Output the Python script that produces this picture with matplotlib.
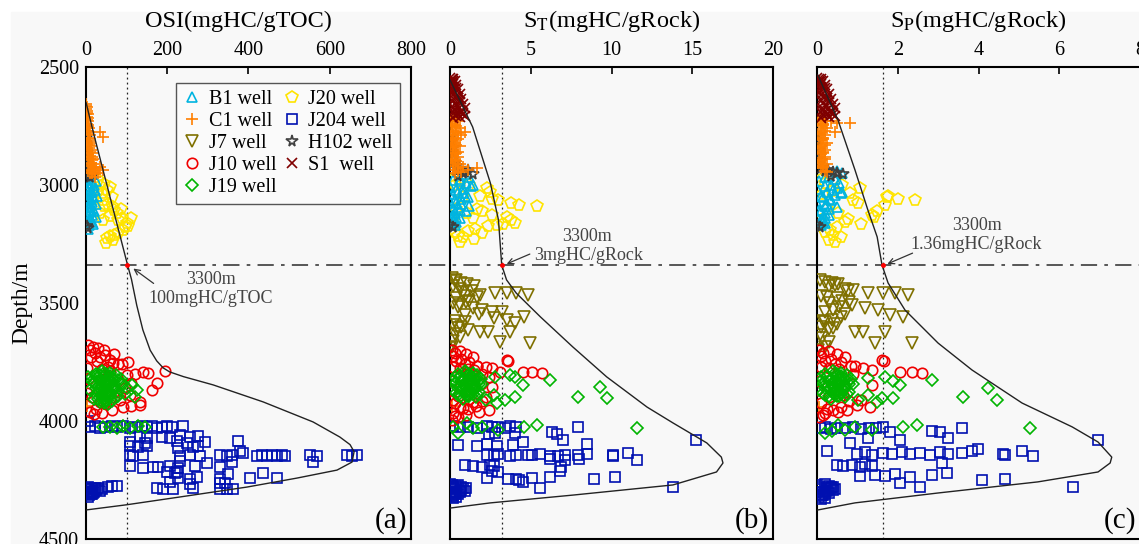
import matplotlib.pyplot as plt
from matplotlib.lines import Line2D
from matplotlib.patches import Rectangle

plt.rcParams['font.family'] = ['Liberation Serif', 'DejaVu Serif']
plt.rcParams['mathtext.fontset'] = 'stix'

# ---------------- data ----------------
depth_ticks = [2500, 3000, 3500, 4000, 4500]
cut_depth = 3340          # where the dash-dot "3300m" line is drawn

# envelope curves
osi_curve = [0, 20, 50, 80, 101, 112, 125, 140, 158, 174, 190, 206, 240, 313, 436, 559, 625, 650, 660, 655, 618, 519, 396, 231, 100, 0]
osi_curve_depth = [2650, 2790, 2990, 3190, 3330, 3400, 3510, 3614, 3700, 3745, 3775, 3792, 3812, 3847, 3919, 4004, 4068, 4100, 4130, 4174, 4208, 4242, 4280, 4322, 4355, 4377]
st_curve = [0, 1.4, 2.5, 3.0, 3.2, 3.5, 4.1, 5.6, 7.6, 9.7, 12.2, 13.8, 15.9, 16.8, 16.9, 16.5, 13.8, 7.6, 2.5, 0]
st_curve_depth = [2555, 2754, 2992, 3148, 3339, 3402, 3458, 3559, 3686, 3813, 3941, 4008, 4093, 4153, 4178, 4216, 4271, 4314, 4347, 4369]
sp_curve = [0.02, 0.52, 0.94, 1.26, 1.49, 1.61, 1.76, 2.18, 3.0, 3.84, 5.08, 6.32, 6.96, 7.3, 7.26, 6.96, 5.47, 3.0, 0.94, 0.02]
sp_curve_depth = [2534, 2725, 2936, 3106, 3220, 3339, 3415, 3530, 3670, 3784, 3924, 4025, 4089, 4153, 4178, 4216, 4258, 4305, 4347, 4377]

# cut-off values (x of dotted line)
osi_cut = 101
st_cut = 3.2
sp_cut = 1.63

# ---- panel (a) OSI ----
C1_a_depth = [2655, 2670, 2685, 2700, 2715, 2730, 2745, 2760, 2775, 2790,
              2805, 2820, 2835, 2850, 2865, 2880, 2895, 2910, 2925, 2940,
              2955, 2965, 2700, 2760, 2820, 2880, 2940, 2775, 2797, 2924,
              2936, 2950, 3935,
              2665, 2680, 2695, 2710, 2725, 2740, 2755, 2770, 2785, 2800,
              2815, 2830, 2845, 2860, 2875, 2890, 2905, 2920, 2935, 2950,
              2830, 2870, 2910, 2950, 2890, 2930]
C1_a_osi = [1, 2, 3, 4, 4, 5, 6, 7, 8, 9,
            10, 11, 12, 13, 14, 15, 16, 18, 19, 20,
            21, 22, 0, 1, 2, 4, 6, 34, 42, 34,
            42, 30, 2,
            0, 1, 2, 2, 3, 3, 4, 5, 5, 6,
            7, 7, 8, 9, 10, 11, 12, 13, 14, 15,
            3, 5, 8, 10, 17, 24]
H102_a_depth = [2760, 2780, 2800, 2820, 2840, 2860, 2880, 2900, 2920, 2940, 2960, 2958, 2965, 3182, 3175]
H102_a_osi = [0, 1, 0, 1, 0, 2, 0, 1, 0, 2, 3, 17, 10, 5, 2]
B1_a_depth = [2975, 2990, 3005, 3020, 3035, 3050, 3065, 3080, 3095, 3110,
              3125, 3140, 3155, 3170, 3185, 2985, 3015, 3045, 3075, 3105,
              3135, 3165, 3000, 3060, 3120,
              2980, 3010, 3030, 3055, 3070, 3090, 3115, 3130, 3150, 3160]
B1_a_osi = [5, 15, 10, 22, 8, 18, 12, 25, 6, 20,
            14, 10, 16, 8, 4, 25, 3, 27, 2, 12,
            24, 18, 20, 5, 2,
            12, 8, 15, 6, 14, 10, 7, 4, 12, 6]
J20_a_depth = [2980, 2995, 3008, 3020, 3035, 3050, 3064, 3080, 3093, 3105,
               3119, 3130, 3140, 3150, 3161, 3175, 3190, 3203, 3215, 3225,
               3235, 3245, 3005, 3030, 3060, 3090, 3120, 3150, 3180, 3210,
               3100, 3140]
J20_a_osi = [30, 45, 59, 52, 40, 64, 42, 55, 66, 70,
             76, 60, 89, 80, 101, 103, 91, 79, 59, 52,
             66, 50, 34, 27, 17, 45, 34, 42, 95, 70,
             85, 110]
J10_a_depth = [3678, 3685, 3690, 3700, 3710, 3720, 3730, 3740, 3750, 3755,
               3760, 3770, 3780, 3788, 3797, 3792, 3800, 3839, 3869, 3898,
               3919, 3932, 3941, 3953, 3921, 3890, 3910, 3930, 3950, 3960,
               3700, 3715, 3730, 3745, 3760, 3775, 3790, 3805, 3820, 3840,
               3860, 3880, 3900, 3935, 3965, 3970]
J10_a_osi = [5, 17, 30, 10, 22, 47, 35, 60, 103, 66,
             80, 55, 40, 194, 153, 140, 120, 175, 162, 15,
             34, 133, 91, 64, 133, 108, 84, 50, 25, 10,
             45, 70, 12, 28, 88, 2, 60, 100, 5, 110,
             95, 2, 70, 110, 40, 20]
J19_a_depth = [3790, 3795, 3800, 3805, 3810, 3815, 3820, 3825, 3830, 3835,
               3840, 3845, 3850, 3855, 3860, 3865, 3870, 3875, 3880, 3885,
               3890, 3895, 3900, 3905, 3910, 3915, 3920, 3925, 3930,
               3800, 3812, 3824, 3836, 3848, 3860, 3872, 3884, 3896, 3908, 3920,
               3805, 3818, 3831, 3844, 3857, 3870, 3883, 3896, 3909,
               3795, 3808, 3822, 3838, 3852, 3866, 3878, 3892, 3810, 3828,
               3842, 3862, 3876, 3888, 3850, 3835,
               3813, 3847, 3869, 3898, 3860, 3885,
               4025, 4025, 4028, 4022, 4030, 4020, 4025]
J19_a_osi = [40, 60, 25, 75, 45, 15, 85, 55, 35, 65,
             20, 90, 50, 30, 70, 45, 10, 80, 55, 25,
             60, 40, 75, 30, 50, 65, 35, 45, 55,
             50, 30, 70, 45, 60, 25, 55, 40, 80, 20, 50,
             35, 65, 15, 85, 40, 70, 30, 60, 45,
             45, 60, 35, 55, 40, 65, 45, 55, 25, 80,
             50, 35, 60, 45, 70, 20,
             5, 113, 125, 120, 100, 95,
             42, 59, 76, 91, 108, 128, 145]
J204_a_depth = [3998, 4026, 4022, 4028, 4024, 4020, 4026, 4022, 4028, 4024, 4020, 4026, 4022, 4030, 4024, 4020, 4026, 4022,
                4062, 4070, 4066, 4072, 4060, 4068, 4064,
                4088, 4092, 4086, 4094, 4090, 4084,
                4108, 4112, 4106, 4114, 4110, 4104,
                4128, 4134,
                4146, 4150, 4144, 4148, 4146, 4150, 4144, 4148, 4146, 4150, 4144, 4148, 4146, 4150, 4144, 4148, 4146, 4150, 4144, 4148, 4146,
                4170, 4176, 4172, 4174,
                4192, 4198, 4194, 4196, 4190, 4198, 4192, 4196,
                4218, 4222, 4216, 4224, 4220,
                4240, 4244, 4238, 4246, 4242, 4240,
                4260, 4266, 4262, 4264,
                4286, 4290, 4288, 4286, 4290, 4288, 4290,
                4280, 4290, 4300, 4310, 4320, 4295, 4285, 4290, 4280, 4275, 4275, 4300, 4300, 4310, 4290, 4292,
                4285, 4305, 4315, 4282, 4298, 4308]
J204_a_osi = [5, 10, 22, 34, 47, 64, 76, 91, 108, 121, 138, 150, 162, 175, 187, 199, 212, 239,
              133, 150, 187, 207, 231, 256, 276,
              108, 145, 224, 248, 293, 374,
              108, 128, 150, 226, 263, 276,
              379, 387,
              108, 116, 140, 231, 256, 281, 330, 347, 359, 421, 433, 446, 458, 470, 482, 490, 551, 568, 642, 655, 667,
              231, 298, 359, 559,
              108, 140, 165, 177, 207, 226, 268, 330,
              199, 219, 224, 349, 436,
              226, 256, 273, 330, 404, 470,
              207, 256, 330, 342,
              175, 189, 214, 263, 330, 347, 362,
              4, 8, 10, 12, 5, 15, 30, 40, 55, 65, 76, 20, 3, 6, 2, 25,
              12, 18, 8, 22, 35, 14]

# ---- panel (b) ST ----
S1_depth = [2550, 2558, 2566, 2575, 2585, 2595, 2605, 2615, 2625, 2635,
            2645, 2655, 2665, 2675, 2685, 2695, 2705, 2712, 2580, 2610,
            2640, 2670, 2700, 2560, 2620, 2680, 2650, 2690,
            2545, 2552, 2563, 2572, 2590, 2600, 2630, 2660, 2685, 2698,
            2708, 2715]
S1_b_st = [0.1, 0.3, 0.0, 0.4, 0.2, 0.5, 0.1, 0.6, 0.3, 0.7,
           0.2, 0.8, 0.5, 0.9, 0.4, 0.7, 0.3, 0.6, 0.0, 0.3,
           0.5, 0.1, 0.8, 0.2, 0.0, 0.3, 0.6, 0.2,
           0.0, 0.2, 0.1, 0.2, 0.4, 0.0, 0.5, 0.4, 0.7, 0.5,
           0.9, 0.2]
C1_b_depth = [2715, 2730, 2745, 2760, 2775, 2790, 2805, 2820, 2835, 2850,
              2865, 2880, 2895, 2910, 2925, 2940, 2950, 2725, 2755, 2785,
              2815, 2845, 2875, 2905, 2935, 2775, 2790, 2928, 2935, 3935,
              2720, 2740, 2750, 2770, 2780, 2800, 2810, 2830, 2840, 2860,
              2870, 2890, 2900, 2920, 2930, 2945]
C1_b_st = [0.2, 0.5, 0.3, 0.6, 0.4, 0.2, 0.5, 0.3, 0.6, 0.2,
           0.4, 0.5, 0.3, 0.6, 0.8, 0.5, 0.3, 0.0, 0.1, 0.0,
           0.1, 0.0, 0.1, 0.0, 0.2, 0.93, 0.7, 1.7, 1.1, 0.1,
           0.3, 0.1, 0.4, 0.2, 0.5, 0.3, 0.1, 0.4, 0.2, 0.5,
           0.3, 0.1, 0.4, 0.2, 0.5, 0.7]
H102_b_depth = [2800, 2815, 2830, 2845, 2860, 2875, 2890, 2905, 2920, 2935, 2950, 2936, 2945, 2955, 2960, 3178, 3170]
H102_b_st = [0.0, 0.1, 0.0, 0.2, 0.1, 0.0, 0.2, 0.3, 0.4, 0.6, 0.8, 1.1, 0.9, 1.4, 0.5, 0.2, 0.0]
B1_b_depth = [2955, 2965, 2975, 2990, 3005, 3020, 3035, 3050, 3065, 3080,
              3095, 3110, 3125, 3140, 3155, 3170, 2980, 3010, 3040, 3070,
              3100, 3130, 3160, 3000, 3045, 3090,
              2985, 3015, 3030, 3058, 3075, 3105, 3118, 3135, 3148, 3165]
B1_b_st = [0.9, 1.2, 0.6, 1.0, 1.3, 0.4, 0.8, 1.1, 0.3, 0.7,
           0.5, 1.0, 0.2, 0.6, 0.4, 0.3, 0.2, 0.0, 0.1, 0.0,
           0.2, 0.1, 0.0, 1.4, 0.9, 1.2,
           0.6, 0.8, 0.5, 0.7, 0.4, 0.6, 0.3, 0.4, 0.2, 0.1]
J20_b_depth = [2979, 2990, 3000, 3013, 3030, 3045, 3064, 3075, 3085, 3090,
               3100, 3110, 3120, 3127, 3140, 3150, 3160, 3165, 3169, 3175,
               3185, 3195, 3205, 3215, 3220, 3230, 3240, 3000, 3050, 3100,
               3150, 3200, 3060, 3135]
J20_b_st = [0.1, 0.6, 1.2, 2.3, 2.5, 1.86, 3.0, 3.8, 4.3, 5.4,
            1.7, 2.0, 1.05, 2.6, 1.4, 3.8, 4.0, 3.3, 2.9, 2.35,
            1.55, 1.1, 2.0, 0.5, 0.8, 1.5, 0.6, 0.3, 0.8, 0.4,
            0.2, 0.3, 2.6, 3.5]
J7_b_depth = [3394, 3405, 3415, 3402, 3420, 3430, 3440, 3450, 3458, 3458,
              3458, 3466, 3465, 3470, 3480, 3490, 3500, 3510, 3520, 3530,
              3538, 3540, 3550, 3559, 3565, 3572, 3581, 3585, 3595, 3605,
              3615, 3623, 3623, 3623, 3630, 3645, 3660, 3665, 3670, 3686,
              3690, 3430, 3455, 3475, 3495, 3515, 3545, 3575, 3600]
J7_b_st = [0.1, 0.3, 0.7, 0.4, 1.05, 0.2, 0.6, 1.36, 2.8, 3.5,
           4.1, 4.8, 1.86, 0.9, 0.4, 1.2, 0.2, 0.6, 1.4, 2.0,
           2.6, 3.2, 0.9, 4.6, 2.7, 3.5, 0.9, 4.0, 0.2, 0.5,
           1.1, 1.86, 2.35, 3.7, 0.3, 0.6, 0.2, 3.1, 4.95, 0.1,
           0.0, 1.5, 0.8, 1.7, 1.0, 0.5, 1.8, 0.3, 0.7]
J10_b_depth = [3700, 3705, 3712, 3718, 3725, 3730, 3738, 3745, 3750, 3758,
               3765, 3770, 3775, 3780, 3784, 3741, 3745, 3792, 3792, 3797,
               3775, 3770, 3765, 3792, 3856, 3800, 3815, 3830, 3845, 3870,
               3894, 3905, 3915, 3925, 3935, 3945, 3955, 3965, 3975, 3985,
               3995, 3900, 3920, 3940, 3960, 3980, 3910, 3950]
J10_b_st = [0.1, 0.6, 0.3, 1.0, 0.2, 1.4, 0.7, 0.4, 1.2, 0.9,
            1.7, 0.2, 0.6, 1.1, 1.5, 3.5, 3.6, 4.5, 5.1, 5.7,
            2.6, 2.2, 1.7, 3.1, 2.6, 2.0, 2.4, 0.1, 1.9, 0.0,
            0.5, 1.2, 2.0, 0.3, 1.6, 0.8, 2.4, 0.2, 1.0, 0.5,
            0.1, 2.2, 1.4, 0.6, 1.8, 0.3, 0.2, 1.1]
J19_blob_depth = [3790, 3795, 3800, 3805, 3810, 3815, 3820, 3825, 3830, 3835,
                  3840, 3845, 3850, 3855, 3860, 3865, 3870, 3875, 3880, 3885,
                  3890, 3895, 3900, 3905,
                  3800, 3812, 3824, 3836, 3848, 3860, 3872, 3884, 3896,
                  3818, 3831, 3844, 3857, 3870, 3883,
                  3795, 3808, 3822, 3838, 3852, 3866, 3878, 3892, 3810, 3828,
                  3842, 3862, 3876, 3888, 3850, 3835]
J19_b_blob = [0.9, 1.4, 0.5, 1.7, 1.1, 0.3, 1.9, 1.2, 0.7, 1.5,
              0.4, 2.0, 1.0, 0.6, 1.6, 1.2, 0.2, 1.8, 0.9, 1.4,
              0.5, 1.1, 1.6, 0.8,
              1.2, 0.6, 1.6, 1.0, 1.3, 0.5, 1.1, 1.7, 0.7,
              1.4, 0.2, 1.8, 0.9, 1.5, 0.4,
              1.0, 1.3, 0.8, 1.2, 0.9, 1.4, 1.0, 1.2, 0.6, 1.8,
              1.1, 0.8, 1.3, 1.0, 1.5, 0.4]
J19_b_depth = [3813, 3805, 3815, 3847, 3826, 3898, 3856, 3903, 3898, 3911,
               3890, 3924, 3911, 4025, 4017, 4030, 4051, 4030, 4008, 4038,
               4025, 4027]
J19_b_st = [2.8, 3.7, 4.0, 4.5, 6.2, 7.9, 9.3, 9.7, 4.0, 3.4,
            2.7, 2.9, 2.2, 4.6, 5.4, 11.6, 0.5, 1.4, 1.05, 3.0,
            2.0, 0.2]
J204_b_depth = [4022, 4026, 4024, 4028, 4022, 4026, 4024, 4028, 4022, 4026,
                4051, 4088, 4046, 4055, 4080, 4025, 4080, 4051, 4055,
                4100, 4104, 4098, 4106, 4102, 4096,
                4142, 4146, 4140, 4148, 4144, 4142, 4146, 4140, 4148, 4150, 4144, 4142, 4138, 4146, 4136, 4165,
                4162, 4166, 4160, 4150,
                4186, 4190, 4194, 4188, 4192, 4196,
                4212, 4216, 4210,
                4242, 4246, 4244, 4250, 4240, 4238, 4244, 4236,
                4258, 4284, 4280,
                4265, 4272, 4280, 4290, 4300, 4310, 4295, 4285, 4282, 4318, 4325, 4305, 4300, 4285, 4275, 4302, 4312,
                4270, 4292, 4308, 4320, 4278, 4296]
J204_b_st = [0.2, 0.6, 1.1, 1.7, 2.3, 2.6, 3.0, 3.4, 3.7, 4.1,
             4.0, 4.5, 6.3, 6.6, 7.0, 7.9, 15.2, 2.8, 2.4,
             0.5, 1.7, 2.3, 2.9, 3.9, 8.5,
             2.3, 2.7, 3.0, 3.7, 4.1, 4.8, 5.1, 5.6, 6.2, 6.7, 7.1, 7.9, 8.5, 10.1, 11.0, 11.6,
             6.2, 7.1, 8.0, 10.1,
             0.9, 1.4, 2.0, 2.5, 2.7, 6.9,
             2.6, 3.0, 6.8,
             2.3, 3.6, 4.1, 4.3, 5.1, 6.2, 8.9, 10.2,
             4.5, 5.6, 13.8,
             0.0, 0.1, 0.2, 0.3, 0.4, 0.5, 0.6, 0.8, 1.0, 0.1, 0.2, 0.3, 0.0, 0.1, 0.4, 0.6, 0.2,
             0.5, 0.7, 0.3, 0.4, 0.7, 0.9]

# ---- panel (c) SP ----
S1_c_sp = [0.05, 0.15, 0.0, 0.2, 0.1, 0.25, 0.05, 0.3, 0.15, 0.35,
           0.1, 0.4, 0.25, 0.45, 0.2, 0.35, 0.15, 0.3, 0.0, 0.15,
           0.25, 0.05, 0.4, 0.1, 0.0, 0.15, 0.3, 0.1,
           0.0, 0.1, 0.05, 0.1, 0.2, 0.0, 0.25, 0.2, 0.35, 0.25,
           0.45, 0.1]
C1_c_depth = [2715, 2730, 2745, 2760, 2775, 2790, 2805, 2820, 2835, 2850,
              2865, 2880, 2895, 2910, 2925, 2940, 2725, 2785, 2845, 2905,
              2737, 2737, 2775, 2730, 3940,
              2720, 2740, 2750, 2770, 2780, 2800, 2810, 2830, 2840, 2860,
              2870, 2890, 2900, 2920, 2930, 2945]
C1_c_sp = [0.1, 0.2, 0.15, 0.25, 0.1, 0.2, 0.15, 0.25, 0.1, 0.2,
           0.15, 0.2, 0.1, 0.25, 0.15, 0.2, 0.0, 0.0, 0.0, 0.02,
           0.5, 0.82, 0.45, 0.35, 0.05,
           0.05, 0.15, 0.1, 0.2, 0.05, 0.15, 0.1, 0.2, 0.05, 0.15,
           0.1, 0.2, 0.05, 0.15, 0.1, 0.25]
H102_c_depth = [2790, 2810, 2830, 2850, 2870, 2890, 2910, 2930, 2936, 2945, 2950, 2955, 2960, 2940, 3178, 3170]
H102_c_sp = [0.0, 0.02, 0.0, 0.05, 0.0, 0.03, 0.05, 0.1, 0.27, 0.4, 0.5, 0.64, 0.35, 0.2, 0.07, 0.0]
B1_c_depth = [2940, 2950, 2960, 2975, 2990, 3005, 3020, 3035, 3050, 3065,
              3080, 3095, 3110, 3125, 3140, 3155, 3170, 2985, 3015, 3045,
              3075, 3105, 3135, 3165, 3013, 3030,
              2968, 2998, 3028, 3042, 3058, 3088, 3100, 3118, 3148, 3160]
B1_c_sp = [0.5, 0.62, 0.3, 0.45, 0.55, 0.2, 0.4, 0.6, 0.15, 0.35,
           0.25, 0.5, 0.1, 0.3, 0.2, 0.15, 0.1, 0.05, 0.0, 0.1,
           0.0, 0.05, 0.0, 0.05, 0.5, 0.62,
           0.2, 0.35, 0.25, 0.45, 0.3, 0.2, 0.3, 0.2, 0.1, 0.2]
J20_c_depth = [2979, 2990, 3000, 3013, 3025, 3035, 3051, 3058, 3064, 3064,
               3075, 3085, 3047, 3110, 3120, 3127, 3135, 3145, 3155, 3165,
               3178, 3190, 3200, 3210, 3220, 3233, 3240, 3040, 3100, 3150]
J20_c_sp = [0.07, 0.2, 0.62, 1.06, 0.37, 0.82, 1.73, 2.0, 2.43, 0.89,
            1.02, 1.68, 1.76, 1.49, 0.52, 1.36, 1.4, 0.77, 0.69, 1.1,
            0.5, 0.32, 0.2, 0.4, 0.6, 0.3, 0.45, 0.15, 0.25, 0.1]
J7_c_depth = [3402, 3410, 3415, 3420, 3430, 3440, 3450, 3458, 3458, 3458,
              3466, 3470, 3480, 3490, 3500, 3510, 3520, 3530, 3530, 3540,
              3550, 3559, 3559, 3570, 3581, 3590, 3600, 3610, 3623, 3623,
              3623, 3635, 3650, 3665, 3670, 3670, 3686, 3700, 3425, 3445,
              3475, 3495, 3515, 3545, 3575, 3605]
J7_c_sp = [0.07, 0.2, 0.37, 0.52, 0.3, 0.69, 0.77, 1.26, 1.63, 1.93,
           2.25, 0.1, 0.5, 0.62, 0.3, 0.87, 1.19, 1.51, 0.4, 0.2,
           1.81, 2.13, 0.6, 0.37, 0.2, 0.5, 0.1, 0.3, 0.94, 1.14,
           1.68, 0.07, 0.12, 0.3, 1.44, 2.35, 0.2, 0.02, 0.45, 0.9,
           0.25, 0.8, 0.55, 0.7, 0.15, 0.4]
J10_c_depth = [3700, 3705, 3712, 3718, 3725, 3730, 3738, 3745, 3750, 3758,
               3765, 3770, 3775, 3780, 3741, 3745, 3792, 3792, 3797, 3785,
               3775, 3765, 3847, 3941, 3953, 3932, 3966, 3962, 3800, 3830,
               3870, 3900, 3915, 3925, 3940, 3955, 3975, 3985, 3910, 3950,
               3890]
J10_c_sp = [0.05, 0.3, 0.15, 0.5, 0.1, 0.7, 0.35, 0.2, 0.6, 0.45,
            0.85, 0.1, 0.3, 0.55, 1.61, 1.66, 2.05, 2.35, 2.6, 1.36,
            1.14, 0.94, 1.36, 1.31, 0.74, 0.99, 0.2, 0.52, 0.9, 0.05,
            0.0, 0.3, 0.8, 0.1, 0.6, 0.4, 0.15, 0.05, 1.1, 0.25,
            0.65]
J19_c_blob = [0.4, 0.6, 0.2, 0.75, 0.5, 0.1, 0.85, 0.55, 0.3, 0.65,
              0.15, 0.9, 0.45, 0.25, 0.7, 0.5, 0.05, 0.8, 0.4, 0.6,
              0.2, 0.5, 0.7, 0.35,
              0.5, 0.25, 0.7, 0.45, 0.55, 0.2, 0.5, 0.75, 0.3,
              0.6, 0.1, 0.8, 0.4, 0.65, 0.15,
              0.45, 0.6, 0.35, 0.55, 0.4, 0.65, 0.45, 0.55, 0.25, 0.8,
              0.5, 0.35, 0.6, 0.45, 0.7, 0.2]
J19_c_depth = [3818, 3813, 3830, 3847, 3826, 3898, 3860, 3911, 3890, 3920,
               3903, 3903, 3911, 4025, 4017, 4030, 4051, 4017, 4038, 4025,
               4038, 4044]
J19_c_sp = [1.26, 1.68, 1.88, 2.05, 2.85, 3.62, 4.24, 4.46, 1.26, 1.49,
            1.88, 1.61, 1.02, 2.13, 2.48, 5.28, 0.2, 0.52, 0.69, 0.94,
            1.36, 0.37]
J204_c_depth = [4030, 4026, 4032, 4028, 4030, 4026, 4032, 4028, 4030, 4026,
                4030, 4044, 4046, 4072, 4046, 4080, 4093, 4080, 4072,
                4125, 4140, 4130, 4145, 4135, 4140, 4130, 4140, 4135, 4145, 4130, 4140, 4135, 4125, 4120, 4140, 4142, 4128, 4150,
                4186, 4192, 4188, 4194, 4184, 4190, 4180,
                4235, 4228, 4232, 4226, 4236, 4230, 4222, 4250, 4245,
                4262, 4280, 4280,
                4270, 4280, 4290, 4300, 4310, 4285, 4275, 4280, 4290, 4320, 4330, 4300, 4295, 4305, 4315, 4285,
                4265, 4298, 4312, 4325, 4278, 4292]
J204_c_sp = [0.07, 0.2, 0.35, 0.5, 0.7, 0.9, 1.1, 1.3, 1.45, 1.63,
             3.6, 2.85, 3.05, 3.25, 1.8, 2.05, 0.82, 6.96, 1.26,
             0.25, 1.0, 1.19, 1.36, 1.63, 1.86, 2.1, 2.3, 2.55, 2.8, 3.05, 3.25, 3.6, 3.84, 3.99, 4.6, 4.66, 5.08, 5.35,
             0.5, 0.64, 0.87, 1.06, 1.19, 1.36, 3.1,
             1.06, 1.44, 1.68, 1.93, 2.3, 2.85, 3.22, 4.09, 4.66,
             2.05, 2.55, 6.34,
             0.0, 0.05, 0.1, 0.15, 0.2, 0.25, 0.3, 0.4, 0.45, 0.05, 0.1, 0.0, 0.2, 0.3, 0.12, 0.35,
             0.2, 0.25, 0.15, 0.2, 0.35, 0.4]

# ---------------- styles ----------------
well_order = ['B1', 'C1', 'J7', 'J10', 'J19', 'J20', 'J204', 'H102', 'S1']
well_labels = ['B1 well', 'C1 well', 'J7 well', 'J10 well', 'J19 well',
               'J20 well', 'J204 well', 'H102 well', 'S1  well']
styles = {
    'B1':   dict(marker='^', color='#00b4e0', ms=7.5),
    'C1':   dict(marker='+', color='#ff7f00', ms=8.0),
    'J7':   dict(marker='v', color='#7f7000', ms=8.0),
    'J10':  dict(marker='o', color='#f00000', ms=7.5),
    'J19':  dict(marker='D', color='#00b400', ms=6.4),
    'J20':  dict(marker='p', color='#ffe400', ms=8.5),
    'J204': dict(marker='s', color='#0010b0', ms=7.0),
    'H102': dict(marker='*', color='#404040', ms=8.5),
    'S1':   dict(marker='x', color='#800000', ms=6.5),
}


def draw_well(ax, vals, depth, name):
    st = styles[name]
    ax.plot(vals, depth, ls='none', marker=st['marker'], ms=st['ms'],
            mfc='none', mec=st['color'], mew=1.2, zorder=3)


def setup(ax, xmax, xticks, label, show_y):
    ax.set_xlim(0, xmax)
    ax.set_ylim(4500, 2500)
    ax.set_facecolor('none')
    ax.xaxis.tick_top()
    ax.xaxis.set_label_position('top')
    ax.set_xticks(xticks)
    ax.set_xlabel(label, fontsize=17.5, labelpad=10)
    ax.tick_params(axis='x', direction='in', length=5, width=1.2, labelsize=14.5, pad=5)
    for s in ax.spines.values():
        s.set_linewidth(1.5)
    if show_y:
        ax.set_yticks(depth_ticks)
        ax.tick_params(axis='y', length=0, labelsize=14.5, pad=5)
        ax.set_ylabel('Depth/m', fontsize=17, labelpad=5)
    else:
        ax.set_yticks([])


fig = plt.figure(figsize=(11.39, 5.44), dpi=100, facecolor='white')
fig.add_artist(Rectangle((11 / 1139, 0), 1, 1 - 12 / 544, transform=fig.transFigure,
                         color='#f8f8f8', zorder=-1))

ax1 = fig.add_axes([0.0755, 0.0092, 0.2853, 0.8676])
ax2 = fig.add_axes([0.3951, 0.0092, 0.2836, 0.8676])
ax3 = fig.add_axes([0.7173, 0.0092, 0.2836, 0.8676])

setup(ax1, 800, [0, 200, 400, 600, 800], 'OSI(mgHC/gTOC)', True)
setup(ax2, 20, [0, 5, 10, 15, 20], r'S$_{\mathrm{T}}$(mgHC/gRock)', False)
setup(ax3, 8, [0, 2, 4, 6, 8], r'S$_{\mathrm{P}}$(mgHC/gRock)', False)
ax1.xaxis.label.set_x(0.47)

# panel a
draw_well(ax1, J204_a_osi, J204_a_depth, 'J204')
draw_well(ax1, J20_a_osi, J20_a_depth, 'J20')
draw_well(ax1, B1_a_osi, B1_a_depth, 'B1')
draw_well(ax1, H102_a_osi, H102_a_depth, 'H102')
draw_well(ax1, C1_a_osi, C1_a_depth, 'C1')
draw_well(ax1, J10_a_osi, J10_a_depth, 'J10')
draw_well(ax1, J19_a_osi, J19_a_depth, 'J19')

# panel b
draw_well(ax2, J204_b_st, J204_b_depth, 'J204')
draw_well(ax2, J20_b_st, J20_b_depth, 'J20')
draw_well(ax2, B1_b_st, B1_b_depth, 'B1')
draw_well(ax2, H102_b_st, H102_b_depth, 'H102')
draw_well(ax2, C1_b_st, C1_b_depth, 'C1')
draw_well(ax2, S1_b_st, S1_depth, 'S1')
draw_well(ax2, J7_b_st, J7_b_depth, 'J7')
draw_well(ax2, J10_b_st, J10_b_depth, 'J10')
draw_well(ax2, J19_b_blob, J19_blob_depth, 'J19')
draw_well(ax2, J19_b_st, J19_b_depth, 'J19')

# panel c
draw_well(ax3, J204_c_sp, J204_c_depth, 'J204')
draw_well(ax3, J20_c_sp, J20_c_depth, 'J20')
draw_well(ax3, B1_c_sp, B1_c_depth, 'B1')
draw_well(ax3, H102_c_sp, H102_c_depth, 'H102')
draw_well(ax3, C1_c_sp, C1_c_depth, 'C1')
draw_well(ax3, S1_c_sp, S1_depth, 'S1')
draw_well(ax3, J7_c_sp, J7_c_depth, 'J7')
draw_well(ax3, J10_c_sp, J10_c_depth, 'J10')
draw_well(ax3, J19_c_blob, J19_blob_depth, 'J19')
draw_well(ax3, J19_c_sp, J19_c_depth, 'J19')

# envelope curves, cut-off lines, red dots
for ax, cx, cy, cut in [(ax1, osi_curve, osi_curve_depth, osi_cut),
                        (ax2, st_curve, st_curve_depth, st_cut),
                        (ax3, sp_curve, sp_curve_depth, sp_cut)]:
    ax.plot(cx, cy, color='#222222', lw=1.0, zorder=4)
    ax.axvline(cut, color='#222222', ls=(0, (1.5, 2.5)), lw=0.9, zorder=2)
    ax.plot([cut], [cut_depth], 'o', color='red', ms=2.5, zorder=5)

# dash-dot depth line running across all panels
ax1.axhline(cut_depth, xmin=0, xmax=3.3, color='#4a4a4a', lw=1.3,
            ls=(0, (9, 4, 2, 4)), clip_on=False, zorder=2)

# annotations
ann_color = '#444444'
ax1.annotate('', xy=(111, 3347), xytext=(172, 3424),
             arrowprops=dict(arrowstyle='->', color='#333333', lw=0.9))
ax1.text(307, 3402, '3300m', ha='center', va='center', fontsize=13, color=ann_color)
ax1.text(307, 3483, '100mgHC/gTOC', ha='center', va='center', fontsize=13, color=ann_color)

ax2.annotate('', xy=(3.35, 3339), xytext=(5.1, 3288),
             arrowprops=dict(arrowstyle='->', color='#333333', lw=0.9))
ax2.text(8.5, 3220, '3300m', ha='center', va='center', fontsize=13, color=ann_color)
ax2.text(8.6, 3297, '3mgHC/gRock', ha='center', va='center', fontsize=13, color=ann_color)

ax3.annotate('', xy=(1.68, 3339), xytext=(2.43, 3284),
             arrowprops=dict(arrowstyle='->', color='#333333', lw=0.9))
ax3.text(3.96, 3172, '3300m', ha='center', va='center', fontsize=13, color=ann_color)
ax3.text(3.94, 3252, '1.36mgHC/gRock', ha='center', va='center', fontsize=13, color=ann_color)

for ax, tag in [(ax1, '(a)'), (ax2, '(b)'), (ax3, '(c)')]:
    ax.text(0.988, 0.04, tag, transform=ax.transAxes, ha='right', va='center', fontsize=21)

# legend
handles = [Line2D([], [], ls='none', marker=styles[w]['marker'], ms=styles[w]['ms'],
                  mfc='none', mec=styles[w]['color'], mew=1.2) for w in well_order]
leg = ax1.legend(handles, well_labels, ncol=2, loc='upper right', bbox_to_anchor=(0.966, 0.966),
                 fontsize=14.5, frameon=True, fancybox=False, framealpha=1, facecolor='#fafafa',
                 edgecolor='#555555', handlelength=0.9, handletextpad=0.35, columnspacing=0.35,
                 labelspacing=0.14, borderpad=0.35, borderaxespad=0)
leg.get_frame().set_linewidth(1.0)

fig.savefig('out.png', dpi=100)
